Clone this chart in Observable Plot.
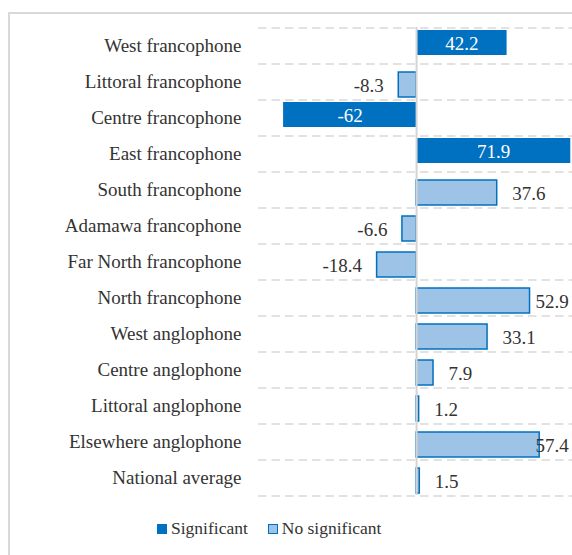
<!DOCTYPE html>
<html>
<head>
<meta charset="utf-8">
<script src="https://cdn.jsdelivr.net/npm/d3@7"></script>
<script src="https://cdn.jsdelivr.net/npm/@observablehq/plot@0.6"></script>
</head>
<body style="margin:0;font-family:'Liberation Serif';font-size:19px">
<div id="wrap" style="position:relative;width:572px;height:555px;overflow:hidden;font-family:'Liberation Serif'">
  <div style="position:absolute;left:8px;top:12px;width:620px;height:620px;border:2px solid #d9d9d9;box-sizing:border-box"></div>
  <div id="chart" style="position:absolute;left:0;top:0"></div>
  <div style="position:absolute;left:157px;top:518px;display:flex;align-items:center;font-size:17.5px;color:#333;font-family:'Liberation Serif'">
    <div style="width:10px;height:10px;background:#0070c0;margin-right:4px"></div><span style="margin-right:20px">Significant</span>
    <div style="width:10px;height:10px;box-sizing:border-box;background:#9dc3e6;border:1.5px solid #0070c0;margin-right:4px"></div><span>No significant</span>
  </div>
</div>
<script>
const categories = [
  "West francophone", "Littoral francophone", "Centre francophone", "East francophone",
  "South francophone", "Adamawa francophone", "Far North francophone", "North francophone",
  "West anglophone", "Centre anglophone", "Littoral anglophone", "Elsewhere anglophone",
  "National average"
];
const values = [42.2, -8.3, -62, 71.9, 37.6, -6.6, -18.4, 52.9, 33.1, 7.9, 1.2, 57.4, 1.5];
const significant = [true, false, true, true, false, false, false, false, false, false, false, false, false];

const data = categories.map((cat, i) => ({cat, value: values[i], sig: significant[i]}));
const sigData = data.filter(d => d.sig);
const nonData = data.filter(d => !d.sig);

const W = 572, H = 500, mt = 27, mb = 5;
const step = (H - mt - mb) / categories.length;
const grid = {stroke: "#d9d9d9", strokeDasharray: "8.5,5", strokeWidth: 1.3};
const textColor = "#333";
const font = "Liberation Serif";

const chart = Plot.plot({
  width: W, height: H,
  marginLeft: 258, marginRight: 0, marginTop: mt, marginBottom: mb,
  style: {fontFamily: font, fontSize: "19px", color: textColor, background: "transparent"},
  x: {domain: [-73.7, 72.7], axis: null},
  y: {domain: categories, paddingInner: 0.314, paddingOuter: 0.157, axis: null},
  marks: [
    Plot.ruleY(categories, {y: d => d, dy: -step / 2, ...grid}),
    Plot.ruleY(categories.slice(-1), {y: d => d, dy: step / 2, ...grid}),
    Plot.barX(sigData, {x: "value", y: "cat", fill: "#0070c0", dy: -3}),
    Plot.barX(nonData, {x: "value", y: "cat", fill: "#9dc3e6", stroke: "#0070c0", strokeWidth: 1.5, dy: 3}),
    Plot.ruleX([0], {stroke: "#d4d4d4", strokeWidth: 2}),
    Plot.axisY({tickSize: 0, tickPadding: 17, label: null, fontSize: 19, fontFamily: font, fill: textColor}),
    Plot.text(sigData, {x: d => d.value / 2, y: "cat", text: d => String(d.value), fill: "white", fontSize: 19, fontFamily: font, dy: -2}),
    Plot.text(nonData.filter(d => d.value >= 0), {x: d => Math.min(d.value, 48.5), y: "cat", text: d => String(d.value), textAnchor: "start", dx: 15, dy: 4, fill: textColor, fontSize: 19, fontFamily: font}),
    Plot.text(nonData.filter(d => d.value < 0), {x: "value", y: "cat", text: d => String(d.value), textAnchor: "end", dx: -15, dy: 4, fill: textColor, fontSize: 19, fontFamily: font})
  ]
});
document.getElementById("chart").appendChild(chart);
</script>
</body>
</html>
